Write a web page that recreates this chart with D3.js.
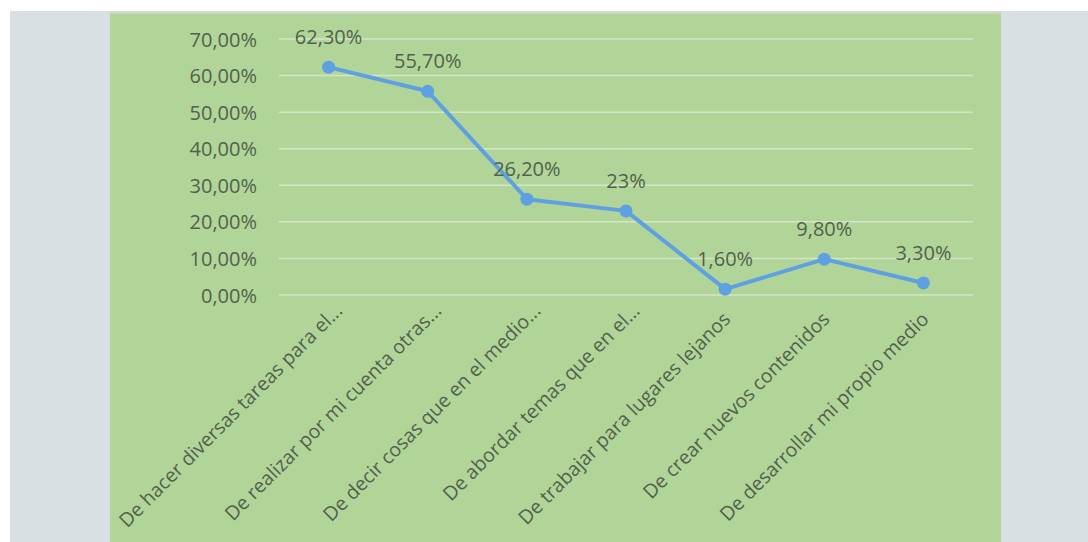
<!DOCTYPE html>
<html>
<head>
<meta charset="utf-8">
<script src="https://cdn.jsdelivr.net/npm/d3@7/dist/d3.min.js"></script>
<style>
  html, body { margin: 0; padding: 0; background: #ffffff; }
  svg { display: block; }
  text { font-family: "Open Sans", "Noto Sans", sans-serif; }
</style>
</head>
<body>
<svg id="chart" width="1088" height="542"></svg>
<script>
const categories = [
  "De hacer diversas tareas para el...",
  "De realizar por mi cuenta otras...",
  "De decir cosas que en el medio...",
  "De abordar temas que en el...",
  "De trabajar para lugares lejanos",
  "De crear nuevos contenidos",
  "De desarrollar mi propio medio"
];
const values = [62.3, 55.7, 26.2, 23, 1.6, 9.8, 3.3];
const valueLabels = ["62,30%", "55,70%", "26,20%", "23%", "1,60%", "9,80%", "3,30%"];
const yTicks = [0, 10, 20, 30, 40, 50, 60, 70];

const svg = d3.select("#chart");
const W = 1088, H = 542;

// page backdrop and chart panel
svg.append("rect").attr("x", 10).attr("y", 11).attr("width", W - 10).attr("height", H - 11).attr("fill", "#d9e0e3");
svg.append("rect").attr("x", 110).attr("y", 12).attr("width", 891).attr("height", H - 12).attr("fill", "#b1d598");
svg.append("line").attr("x1", 110).attr("x2", 1001).attr("y1", 12.5).attr("y2", 12.5).attr("stroke", "#d4d6d0").attr("stroke-width", 2);

const plot = { left: 279, right: 973, top: 39, bottom: 295 };

const x = d3.scaleBand().domain(categories).range([plot.left, plot.right]);
const y = d3.scaleLinear().domain([0, 70]).range([plot.bottom, plot.top]);

const textColor = "#51614c";
const fontSize = 20;
const catFontSize = 19.5;

// horizontal gridlines
svg.append("g")
  .selectAll("line")
  .data(yTicks)
  .join("line")
  .attr("x1", plot.left).attr("x2", plot.right)
  .attr("y1", d => y(d)).attr("y2", d => y(d))
  .attr("stroke", "#d3e6c6").attr("stroke-width", 1.5);

// y axis labels
const yAxis = d3.axisLeft(y).tickValues(yTicks).tickSize(0).tickPadding(0)
  .tickFormat(d => d.toFixed(2).replace(".", ",") + "%");
const gy = svg.append("g").attr("transform", `translate(${plot.left - 22},0)`).call(yAxis);
gy.select(".domain").remove();
gy.selectAll("text").attr("fill", textColor).attr("font-size", fontSize)
  .attr("font-family", "'Open Sans', sans-serif").attr("dy", "0.35em");

// category labels, rotated; truncated labels sit slightly further out
const xAxis = d3.axisBottom(x).tickSize(0).tickPadding(0);
const gx = svg.append("g").attr("transform", `translate(0,${plot.bottom})`).call(xAxis);
gx.select(".domain").remove();
gx.selectAll("text")
  .attr("fill", textColor).attr("font-size", catFontSize)
  .attr("font-family", "'Open Sans', sans-serif")
  .attr("text-anchor", "end")
  .attr("dy", null)
  .attr("y", 0)
  .attr("dx", d => d.endsWith("...") ? 0 : -12)
  .attr("transform", "translate(15,17) rotate(-45)");

// series line
const pts = categories.map((c, i) => ({ c, v: values[i], label: valueLabels[i] }));
const line = d3.line().x(d => x(d.c) + x.bandwidth() / 2).y(d => y(d.v));
svg.append("path").datum(pts).attr("d", line)
  .attr("fill", "none").attr("stroke", "#5fa0e2").attr("stroke-width", 4)
  .attr("stroke-linejoin", "round").attr("stroke-linecap", "round");

svg.append("g").selectAll("circle").data(pts).join("circle")
  .attr("cx", d => x(d.c) + x.bandwidth() / 2)
  .attr("cy", d => y(d.v))
  .attr("r", 6.5)
  .attr("fill", "#5fa0e2");

// data labels
svg.append("g").selectAll("text").data(pts).join("text")
  .attr("x", d => x(d.c) + x.bandwidth() / 2)
  .attr("y", d => y(d.v) - 23)
  .attr("text-anchor", "middle")
  .attr("fill", textColor)
  .attr("font-size", fontSize)
  .text(d => d.label);
</script>
</body>
</html>
